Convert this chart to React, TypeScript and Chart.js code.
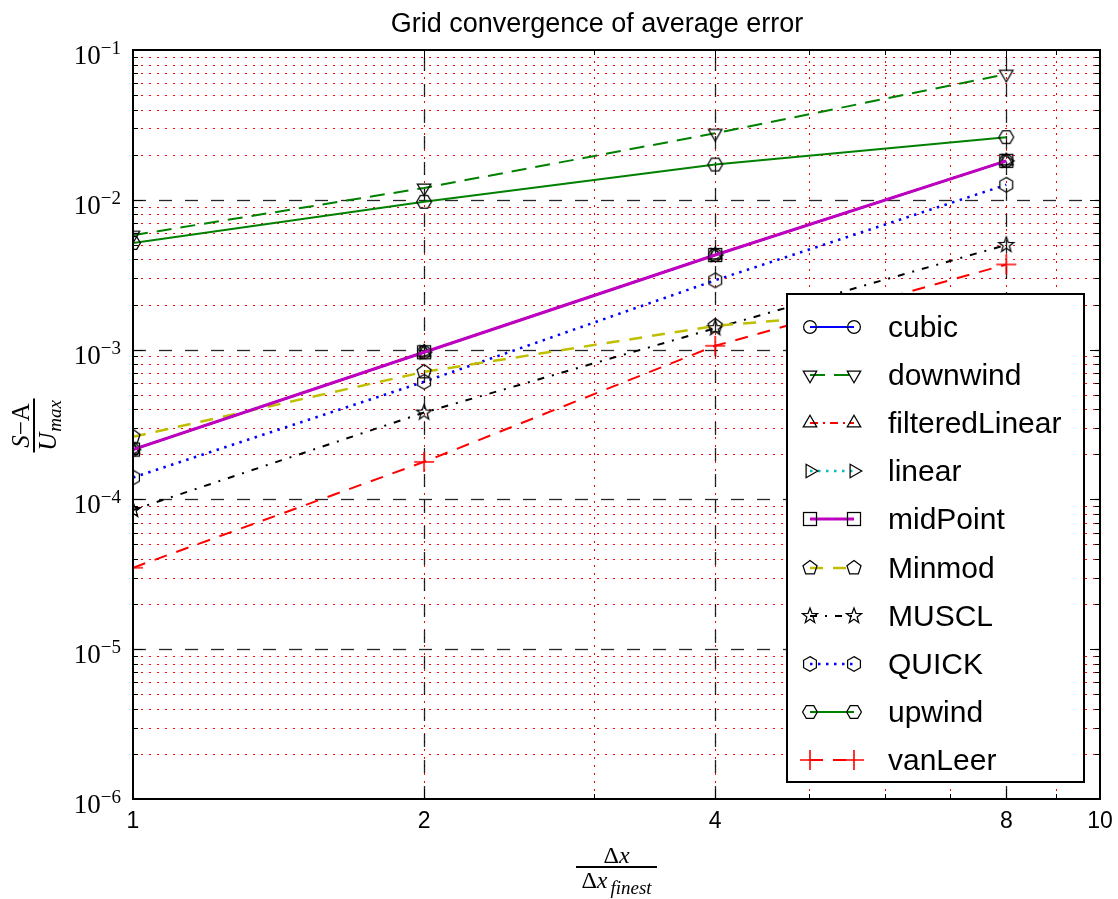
import React, { useEffect, useRef } from 'react';
import { Chart, registerables } from 'chart.js';

Chart.register(...registerables);

// ---------------- data ----------------
const xValues = [1, 2, 4, 8];
const cubic = [2.15e-4, 9.6e-4, 4.28e-3, 1.82e-2];
const downwind = [5.8e-3, 1.2e-2, 2.78e-2, 6.9e-2];
const filteredLinear = [2.15e-4, 9.6e-4, 4.28e-3, 1.82e-2];
const linear = [2.15e-4, 9.6e-4, 4.28e-3, 1.82e-2];
const midPoint = [2.15e-4, 9.6e-4, 4.28e-3, 1.82e-2];
const Minmod = [2.62e-4, 7.1e-4, 1.44e-3, 2.1e-3];
const MUSCL = [8.5e-5, 3.8e-4, 1.39e-3, 5.0e-3];
const QUICK = [1.4e-4, 6.1e-4, 2.9e-3, 1.26e-2];
const upwind = [5.15e-3, 9.7e-3, 1.72e-2, 2.62e-2];
const vanLeer = [3.5e-5, 1.78e-4, 1.06e-3, 3.7e-3];

const xTickValues = [1, 2, 4, 8, 10];
const xTickLabels = ['1', '2', '4', '8', '10'];
const xMajorGrid = [2, 4, 8];
const xMinorGrid = [2, 3, 4, 5, 6, 7, 8, 9];
const yExponents = [-6, -5, -4, -3, -2, -1];
const titleText = 'Grid convergence of average error';

// ---------------- markers ----------------
function makeMarker(kind: string, color = '#000'): HTMLCanvasElement {
  const S = 24;
  const c = document.createElement('canvas');
  c.width = S;
  c.height = S;
  const ctx = c.getContext('2d')!;
  ctx.strokeStyle = color;
  ctx.lineWidth = 1.25;
  const cx = S / 2;
  const cy = S / 2;
  const poly = (n: number, r: number, rot: number) => {
    ctx.beginPath();
    for (let i = 0; i < n; i++) {
      const a = rot + (i * 2 * Math.PI) / n;
      const px = cx + r * Math.sin(a);
      const py = cy - r * Math.cos(a);
      if (i === 0) ctx.moveTo(px, py);
      else ctx.lineTo(px, py);
    }
    ctx.closePath();
    ctx.stroke();
  };
  switch (kind) {
    case 'circle':
      ctx.beginPath();
      ctx.arc(cx, cy, 6.4, 0, Math.PI * 2);
      ctx.stroke();
      break;
    case 'triDown':
      poly(3, 7.8, Math.PI);
      break;
    case 'triUp':
      poly(3, 7.8, 0);
      break;
    case 'triRight':
      poly(3, 7.8, Math.PI / 2);
      break;
    case 'square':
      ctx.strokeRect(cx - 6.5, cy - 6.5, 13, 13);
      break;
    case 'pentagon':
      poly(5, 7.4, 0);
      break;
    case 'star': {
      ctx.beginPath();
      for (let i = 0; i < 10; i++) {
        const r = i % 2 === 0 ? 8 : 3.3;
        const a = (i * Math.PI) / 5;
        const px = cx + r * Math.sin(a);
        const py = cy - r * Math.cos(a);
        if (i === 0) ctx.moveTo(px, py);
        else ctx.lineTo(px, py);
      }
      ctx.closePath();
      ctx.stroke();
      break;
    }
    case 'hexV':
      poly(6, 7.4, 0);
      break;
    case 'hexH':
      poly(6, 7.4, Math.PI / 6);
      break;
    case 'plus':
      ctx.lineWidth = 1.6;
      ctx.beginPath();
      ctx.moveTo(cx - 10, cy);
      ctx.lineTo(cx + 10, cy);
      ctx.moveTo(cx, cy - 10);
      ctx.lineTo(cx, cy + 10);
      ctx.stroke();
      break;
  }
  return c;
}

const SANS = '"Liberation Sans", Arial, Helvetica, sans-serif';
const SERIF = '"Liberation Serif", "Times New Roman", serif';

export default function App() {
  const canvasRef = useRef<HTMLCanvasElement | null>(null);

  useEffect(() => {
    document.body.style.margin = '0';
    const canvas = canvasRef.current;
    if (!canvas) return;

    const seriesDefs = [
      { label: 'cubic', data: cubic, color: '#0000ff', dash: [] as number[], width: 2, marker: 'circle' },
      { label: 'downwind', data: downwind, color: '#008000', dash: [15, 9], width: 2, marker: 'triDown' },
      { label: 'filteredLinear', data: filteredLinear, color: '#ff0000', dash: [8, 5, 2, 5], width: 2, marker: 'triUp' },
      { label: 'linear', data: linear, color: '#00bfbf', dash: [2.5, 5.5], width: 2.5, marker: 'triRight' },
      { label: 'midPoint', data: midPoint, color: '#bf00bf', dash: [] as number[], width: 3, marker: 'square' },
      { label: 'Minmod', data: Minmod, color: '#bfbf00', dash: [13, 10], width: 2.5, marker: 'pentagon' },
      { label: 'MUSCL', data: MUSCL, color: '#000000', dash: [7, 8, 2, 8], width: 2, marker: 'star' },
      { label: 'QUICK', data: QUICK, color: '#0000ff', dash: [2.5, 5.5], width: 2.5, marker: 'hexV' },
      { label: 'upwind', data: upwind, color: '#008000', dash: [] as number[], width: 2, marker: 'hexH' },
      { label: 'vanLeer', data: vanLeer, color: '#ff0000', dash: [13, 10], width: 2, marker: 'plus' },
    ];

    const markers = seriesDefs.map((s) =>
      makeMarker(s.marker, s.marker === 'plus' ? '#ff0000' : '#000000')
    );

    const datasets = seriesDefs.map((s, i) => ({
      label: s.label,
      data: s.data.map((v, j) => ({ x: xValues[j], y: v })),
      borderColor: s.color,
      borderWidth: s.width,
      borderDash: s.dash,
      backgroundColor: s.color,
      pointStyle: markers[i] as any,
      pointRadius: 8,
      pointHoverRadius: 8,
      fill: false,
      tension: 0,
      clip: 0,
      order: s.label === 'midPoint' ? -1 : 0,
    }));

    const decor = {
      id: 'decor',
      beforeDatasetsDraw(chart: any) {
        const { ctx, chartArea: a, scales } = chart;
        const xs = scales.x;
        const ys = scales.y;
        ctx.save();
        ctx.lineWidth = 1;
        // minor horizontal red dotted
        ctx.strokeStyle = '#ff0000';
        ctx.setLineDash([2, 6]);
        for (let e = -6; e < -1; e++) {
          for (let m = 2; m <= 9; m++) {
            const v = m * Math.pow(10, e);
            const py = Math.round(ys.getPixelForValue(v)) + 0.5;
            ctx.beginPath();
            ctx.moveTo(a.left, py);
            ctx.lineTo(a.right, py);
            ctx.stroke();
          }
        }
        // minor vertical red dotted
        for (const v of xMinorGrid) {
          const px = Math.round(xs.getPixelForValue(v)) + 0.5;
          ctx.beginPath();
          ctx.moveTo(px, a.bottom);
          ctx.lineTo(px, a.top);
          ctx.stroke();
        }
        // major horizontal dashed
        ctx.strokeStyle = 'rgba(0,0,0,0.85)';
        ctx.lineWidth = 1.3;
        ctx.setLineDash([13, 13]);
        for (let e = -5; e <= -2; e++) {
          const py = Math.round(ys.getPixelForValue(Math.pow(10, e))) + 0.5;
          ctx.beginPath();
          ctx.moveTo(a.left, py);
          ctx.lineTo(a.right, py);
          ctx.stroke();
        }
        // major vertical dashed
        for (const v of xMajorGrid) {
          const px = Math.round(xs.getPixelForValue(v)) + 0.5;
          ctx.beginPath();
          ctx.moveTo(px, a.bottom);
          ctx.lineTo(px, a.top);
          ctx.stroke();
        }
        ctx.restore();
      },
      afterDatasetsDraw(chart: any) {
        const { ctx, chartArea: a, scales } = chart;
        const xs = scales.x;
        const ys = scales.y;
        ctx.save();
        ctx.setLineDash([]);
        // tick marks
        ctx.strokeStyle = '#000';
        ctx.lineWidth = 1;
        for (let e = -6; e < -1; e++) {
          for (let m = 1; m <= 9; m++) {
            const v = m * Math.pow(10, e);
            const py = Math.round(ys.getPixelForValue(v)) + 0.5;
            const len = m === 1 ? 10 : 5;
            ctx.beginPath();
            ctx.moveTo(a.left, py);
            ctx.lineTo(a.left + len, py);
            ctx.moveTo(a.right, py);
            ctx.lineTo(a.right - len, py);
            ctx.stroke();
          }
        }
        for (const v of xMinorGrid) {
          const px = Math.round(xs.getPixelForValue(v)) + 0.5;
          const len = xMajorGrid.includes(v) ? 10 : 5;
          ctx.beginPath();
          ctx.moveTo(px, a.bottom);
          ctx.lineTo(px, a.bottom - len);
          ctx.moveTo(px, a.top);
          ctx.lineTo(px, a.top + len);
          ctx.stroke();
        }
        // frame
        ctx.lineWidth = 2;
        ctx.strokeRect(a.left, a.top, a.right - a.left, a.bottom - a.top);

        // legend
        const lx = 787;
        const ly = 294;
        const lw = 297;
        const lh = 488;
        ctx.fillStyle = '#ffffff';
        ctx.fillRect(lx, ly, lw, lh);
        ctx.lineWidth = 2;
        ctx.strokeStyle = '#000';
        ctx.strokeRect(lx, ly, lw, lh);
        const rowTop = 327;
        const rowGap = 48.1;
        seriesDefs.forEach((s, i) => {
          const ry = Math.round(rowTop + i * rowGap);
          const x1 = 810;
          const x2 = 854;
          ctx.save();
          ctx.strokeStyle = s.color;
          ctx.lineWidth = s.width;
          ctx.setLineDash(s.dash);
          ctx.beginPath();
          ctx.moveTo(x1, ry);
          ctx.lineTo(x2, ry);
          ctx.stroke();
          ctx.restore();
          const mk = markers[i];
          ctx.drawImage(mk, x1 - mk.width / 2, ry - mk.height / 2);
          ctx.drawImage(mk, x2 - mk.width / 2, ry - mk.height / 2);
          ctx.fillStyle = '#000';
          ctx.font = `30px ${SANS}`;
          ctx.textAlign = 'left';
          ctx.textBaseline = 'alphabetic';
          ctx.fillText(s.label, 888, ry + 10);
        });
        ctx.restore();
      },
      afterDraw(chart: any) {
        const { ctx, chartArea: a, scales } = chart;
        const xs = scales.x;
        const ys = scales.y;
        ctx.save();
        ctx.fillStyle = '#000';
        ctx.textBaseline = 'alphabetic';
        // title
        ctx.font = `27px ${SANS}`;
        ctx.textAlign = 'center';
        ctx.fillText(titleText, 597, 32);
        // x tick labels
        ctx.font = `23px ${SANS}`;
        xTickValues.forEach((v, i) => {
          const px = xs.getPixelForValue(v);
          ctx.fillText(xTickLabels[i], px, 828);
        });
        // y tick labels 10^e
        yExponents.forEach((e) => {
          const py = ys.getPixelForValue(Math.pow(10, e));
          ctx.font = `19px ${SERIF}`;
          ctx.textAlign = 'right';
          const expStr = '\u2212' + String(-e);
          const expW = ctx.measureText(expStr).width;
          ctx.fillText(expStr, 121, py + 4);
          ctx.font = `27px ${SERIF}`;
          ctx.fillText('10', 121 - expW, py + 14);
        });
        // x axis title (fraction)
        const cx = (a.left + a.right) / 2;
        ctx.textAlign = 'left';
        const drawDeltaX = (x0: number, base: number) => {
          ctx.font = `24px ${SERIF}`;
          ctx.fillText('\u0394', x0, base);
          const w1 = ctx.measureText('\u0394').width;
          ctx.font = `italic 24px ${SERIF}`;
          ctx.fillText('x', x0 + w1, base);
          return w1 + ctx.measureText('x').width;
        };
        ctx.font = `24px ${SERIF}`;
        const dW = ctx.measureText('\u0394').width;
        ctx.font = `italic 24px ${SERIF}`;
        const xW = ctx.measureText('x').width;
        const numW = dW + xW;
        drawDeltaX(cx - numW / 2, 863);
        ctx.font = `italic 19px ${SERIF}`;
        const subW = ctx.measureText('finest').width;
        const denW = numW + 3 + subW;
        const dx0 = cx - denW / 2;
        drawDeltaX(dx0, 888);
        ctx.font = `italic 19px ${SERIF}`;
        ctx.fillText('finest', dx0 + numW + 3, 894);
        ctx.fillRect(576, 866, 81, 2);

        // y axis title (rotated fraction)
        ctx.save();
        ctx.translate(34, (a.top + a.bottom) / 2 + 1);
        ctx.rotate(-Math.PI / 2);
        ctx.textAlign = 'left';
        ctx.font = `italic 25px ${SERIF}`;
        const sW = ctx.measureText('S').width;
        ctx.font = `25px ${SERIF}`;
        const mW = ctx.measureText('\u2212A').width;
        const nW = sW + mW;
        ctx.font = `italic 25px ${SERIF}`;
        ctx.fillText('S', -nW / 2, -5);
        ctx.font = `25px ${SERIF}`;
        ctx.fillText('\u2212A', -nW / 2 + sW, -5);
        ctx.font = `italic 25px ${SERIF}`;
        const uW = ctx.measureText('U').width;
        ctx.font = `italic 19px ${SERIF}`;
        const maxW = ctx.measureText('max').width;
        const dnW = uW + 1 + maxW;
        ctx.font = `italic 25px ${SERIF}`;
        ctx.fillText('U', -dnW / 2, 22);
        ctx.font = `italic 19px ${SERIF}`;
        ctx.fillText('max', -dnW / 2 + uW + 1, 27);
        ctx.fillRect(-27, -1, 54, 2);
        ctx.restore();

        ctx.restore();
      },
    };

    const chart = new Chart(canvas, {
      type: 'line',
      data: { datasets: datasets as any },
      options: {
        animation: false,
        responsive: false,
        events: [],
        layout: { padding: { left: 0, top: 50, right: 18, bottom: 0 } },
        plugins: {
          legend: { display: false },
          title: { display: false },
          tooltip: { enabled: false },
        },
        scales: {
          x: {
            type: 'logarithmic',
            min: 1,
            max: 10,
            grid: { display: false },
            border: { display: false },
            ticks: { display: false },
            afterFit: (s: any) => {
              s.height = 100;
            },
          },
          y: {
            type: 'logarithmic',
            min: 1e-6,
            max: 1e-1,
            grid: { display: false },
            border: { display: false },
            ticks: { display: false },
            afterFit: (s: any) => {
              s.width = 133;
            },
          },
        },
      },
      plugins: [decor],
    });

    return () => {
      chart.destroy();
    };
  }, []);

  return (
    <canvas
      ref={canvasRef}
      width={1118}
      height={899}
      style={{ display: 'block', width: '1118px', height: '899px' }}
    />
  );
}
